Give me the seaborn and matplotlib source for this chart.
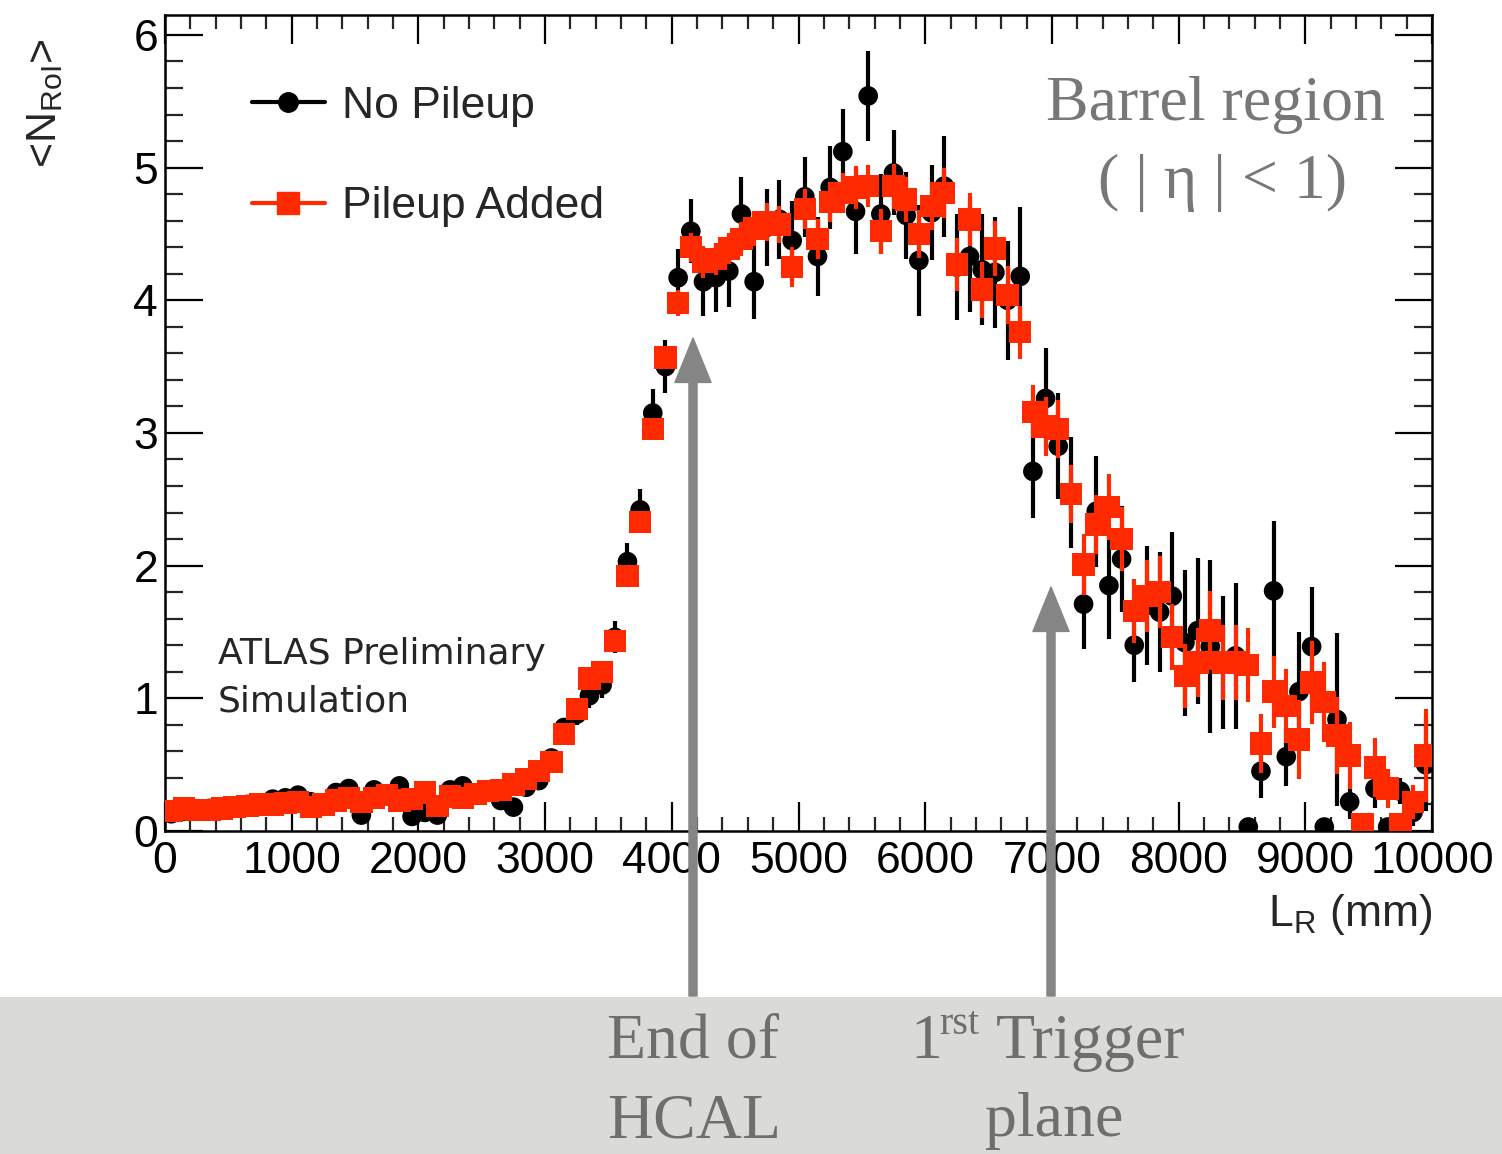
import numpy as np
import pandas as pd
import matplotlib
matplotlib.use("Agg")
import matplotlib.pyplot as plt
from matplotlib.lines import Line2D
from matplotlib.patches import Rectangle
from matplotlib.ticker import MultipleLocator
import seaborn as sns

# ---------------- data (bin centres in mm, 100 mm bins) ----------------
bin_lo = 0
bin_width = 100
n_bins = 100

no_pileup = [
    0.13, 0.15, 0.16, 0.17, 0.17, 0.19, 0.20, 0.21, 0.24, 0.25,
    0.27, 0.22, 0.20, 0.29, 0.32, 0.12, 0.31, 0.27, 0.34, 0.11,
    0.14, 0.12, 0.31, 0.34, 0.27, 0.30, 0.23, 0.18, 0.33, 0.38,
    0.55, 0.78, 0.88, 1.02, 1.10, 1.46, 2.03, 2.42, 3.15, 3.50,
    4.17, 4.52, 4.14, 4.17, 4.22, 4.65, 4.14, 4.55, 4.61, 4.45,
    4.78, 4.33, 4.85, 5.12, 4.67, 5.54, 4.65, 4.96, 4.64, 4.30,
    4.66, 4.86, 4.25, 4.33, 4.23, 4.21, 4.00, 4.18, 2.71, 3.26,
    2.90, 2.55, 1.71, 2.41, 1.85, 2.05, 1.40, 1.70, 1.65, 1.77,
    1.42, 1.51, 1.39, 1.27, 1.32, 0.03, 0.45, 1.81, 0.56, 1.05,
    1.39, 0.03, 0.84, 0.22, 0.04, 0.32, 0.03, 0.30, 0.14, 0.50,
]
no_pileup_err = [
    0.02, 0.02, 0.02, 0.02, 0.02, 0.02, 0.02, 0.02, 0.03, 0.03,
    0.03, 0.03, 0.03, 0.03, 0.03, 0.03, 0.03, 0.03, 0.03, 0.03,
    0.04, 0.04, 0.04, 0.04, 0.04, 0.04, 0.05, 0.05, 0.05, 0.06,
    0.06, 0.07, 0.08, 0.09, 0.10, 0.12, 0.14, 0.16, 0.18, 0.20,
    0.22, 0.24, 0.26, 0.26, 0.27, 0.28, 0.28, 0.29, 0.30, 0.30,
    0.30, 0.30, 0.31, 0.32, 0.32, 0.34, 0.30, 0.32, 0.33, 0.42,
    0.36, 0.38, 0.40, 0.42, 0.42, 0.42, 0.45, 0.52, 0.35, 0.38,
    0.40, 0.42, 0.34, 0.42, 0.40, 0.40, 0.28, 0.45, 0.45, 0.48,
    0.55, 0.55, 0.65, 0.50, 0.55, 0.00, 0.20, 0.53, 0.22, 0.45,
    0.45, 0.00, 0.65, 0.13, 0.00, 0.15, 0.00, 0.10, 0.10, 0.35,
]
pileup = [
    0.15, 0.17, 0.16, 0.16, 0.17, 0.18, 0.19, 0.20, 0.20, 0.21,
    0.22, 0.18, 0.20, 0.23, 0.25, 0.22, 0.25, 0.27, 0.23, 0.24,
    0.29, 0.19, 0.26, 0.25, 0.28, 0.30, 0.31, 0.35, 0.39, 0.45,
    0.52, 0.73, 0.92, 1.15, 1.20, 1.43, 1.92, 2.33, 3.03, 3.57,
    3.98, 4.40, 4.29, 4.31, 4.39, 4.46, 4.54, 4.59, 4.57, 4.25,
    4.69, 4.46, 4.74, 4.81, 4.85, 4.86, 4.52, 4.86, 4.76, 4.50,
    4.71, 4.81, 4.27, 4.61, 4.08, 4.39, 4.04, 3.76, 3.16, 3.05,
    3.03, 2.54, 2.01, 2.31, 2.44, 2.20, 1.66, 1.77, 1.80, 1.46,
    1.17, 1.27, 1.51, 1.27, 1.27, 1.25, 0.66, 1.05, 0.94, 0.69,
    1.12, 0.97, 0.72, 0.57, 0.05, 0.48, 0.32, 0.05, 0.22, 0.57,
]
pileup_err = [
    0.01, 0.01, 0.01, 0.01, 0.01, 0.01, 0.01, 0.01, 0.01, 0.01,
    0.02, 0.02, 0.02, 0.02, 0.02, 0.02, 0.02, 0.02, 0.02, 0.02,
    0.02, 0.02, 0.02, 0.02, 0.02, 0.03, 0.03, 0.03, 0.03, 0.03,
    0.03, 0.04, 0.04, 0.05, 0.05, 0.05, 0.06, 0.06, 0.07, 0.08,
    0.10, 0.11, 0.12, 0.12, 0.12, 0.13, 0.13, 0.14, 0.14, 0.15,
    0.15, 0.15, 0.15, 0.15, 0.16, 0.16, 0.17, 0.17, 0.17, 0.18,
    0.18, 0.19, 0.20, 0.20, 0.21, 0.21, 0.22, 0.20, 0.20, 0.22,
    0.22, 0.22, 0.23, 0.22, 0.25, 0.24, 0.24, 0.27, 0.27, 0.25,
    0.24, 0.26, 0.30, 0.28, 0.28, 0.28, 0.22, 0.27, 0.28, 0.30,
    0.31, 0.30, 0.29, 0.25, 0.00, 0.22, 0.15, 0.05, 0.13, 0.35,
]
series_labels = ["No Pileup", "Pileup Added"]
x_major_ticks = [0, 1000, 2000, 3000, 4000, 5000, 6000, 7000, 8000, 9000, 10000]
y_major_ticks = [0, 1, 2, 3, 4, 5, 6]

centres = [bin_lo + bin_width * (i + 0.5) for i in range(n_bins)]
df = pd.DataFrame({
    "L": centres * 2,
    "N": no_pileup + pileup,
    "err": no_pileup_err + pileup_err,
    "series": [series_labels[0]] * n_bins + [series_labels[1]] * n_bins,
})

# ---------------- style ----------------
sns.set_style("ticks")
plt.rcParams["font.family"] = ["Liberation Sans", "DejaVu Sans"]
plt.rcParams["mathtext.fontset"] = "custom"
plt.rcParams["mathtext.rm"] = "Liberation Sans"
plt.rcParams["mathtext.it"] = "Liberation Sans:italic"

W, H = 1502, 1154
fig = plt.figure(figsize=(W / 100, H / 100), dpi=100)
fig.patch.set_facecolor("white")
ax = fig.add_axes([165 / W, 1 - 831 / H, (1432 - 165) / W, (831 - 15) / H])
ax.set_facecolor("white")

BLACK = "#000000"
RED = "#ff2a00"
colors = {series_labels[0]: BLACK, series_labels[1]: RED}
markers = {series_labels[0]: "o", series_labels[1]: "s"}
sizes = {series_labels[0]: 200, series_labels[1]: 260}

for k, lab in enumerate(series_labels):
    sub = df[df["series"] == lab]
    ax.errorbar(sub["L"], sub["N"], yerr=sub["err"], xerr=bin_width / 2,
                fmt="none", ecolor=colors[lab], elinewidth=3.0, capsize=0,
                zorder=2 + 2 * k)
    sns.scatterplot(data=sub, x="L", y="N", ax=ax, color=colors[lab],
                    marker=markers[lab], s=sizes[lab], linewidth=0,
                    edgecolor="none", legend=False, zorder=3 + 2 * k)

ax.set_xlim(0, 10000)
ax.set_ylim(0, 6.15)
ax.set_xticks(x_major_ticks)
ax.set_yticks(y_major_ticks)
ax.xaxis.set_minor_locator(MultipleLocator(200))
ax.yaxis.set_minor_locator(MultipleLocator(0.2))
ax.set_xlabel("")
ax.set_ylabel("")
for sp in ax.spines.values():
    sp.set_linewidth(1.8)
    sp.set_color("black")
    sp.set_visible(True)
ax.tick_params(axis="x", which="major", direction="in", length=21, width=1.6,
               top=True, bottom=True, labelsize=32, pad=7, colors="black")
ax.tick_params(axis="x", which="minor", direction="in", length=10, width=1.6,
               top=True, bottom=True)
ax.tick_params(axis="y", which="major", direction="in", length=27, width=1.6,
               left=True, right=True, labelsize=32, pad=5, colors="black")
ax.tick_params(axis="y", which="minor", direction="in", length=13, width=1.6,
               left=True, right=True)

# legend
handles = [
    Line2D([], [], color=BLACK, marker="o", markersize=14, lw=3),
    Line2D([], [], color=RED, marker="s", markersize=16, lw=3),
]
ax.legend(handles, series_labels, loc="upper left",
          bbox_to_anchor=((252 - 165) / 1267, (831 - 86) / 816),
          frameon=False, fontsize=32, handlelength=1.64, handletextpad=0.38,
          labelspacing=1.33, borderpad=0, borderaxespad=0)

# axis titles (ROOT style)
fig.text(45 / W, 1 - 38 / H, r"<N$_{\rm RoI}$>", rotation=90, ha="center",
         va="top", fontsize=31)
fig.text(1432 / W, 1 - 892 / H, r"L$_{\rm R}$ (mm)", ha="right", va="top",
         fontsize=32)

# ATLAS label
fig.text(218 / W, 1 - 664 / H, "ATLAS Preliminary", ha="left",
         va="baseline", fontsize=26, family=["DejaVu Sans"])
fig.text(218 / W, 1 - 711 / H, "Simulation", ha="left",
         va="baseline", fontsize=26, family=["DejaVu Sans"])

# region annotation
GREY_TXT = "#777777"
serif = ["Liberation Serif", "DejaVu Serif"]
fig.text(1215 / W, 1 - 120 / H, "Barrel region", ha="center", va="baseline",
         fontsize=46, color=GREY_TXT, family=serif)
fig.text(1222 / W, 1 - 198 / H, "( | η | < 1)", ha="center", va="baseline",
         fontsize=46, color=GREY_TXT, family=serif)

# bottom grey band
fig.patches.append(Rectangle((0, 0), 1, 157 / H, transform=fig.transFigure,
                             facecolor="#dadbd6", edgecolor="none", zorder=0))

# arrows
ARROW = "#858585"
for xp, ytip in [(693, 338), (1051, 587)]:
    fig.add_artist(matplotlib.patches.FancyArrowPatch(
        (xp / W, 1 - 996 / H), (xp / W, 1 - ytip / H),
        transform=fig.transFigure,
        arrowstyle="simple,head_width=1.3,head_length=1.6,tail_width=0.29",
        mutation_scale=20, color=ARROW, shrinkA=0, shrinkB=0, zorder=10))

TXT2 = "#6e6e6e"
fig.text(607 / W, 1 - 1058 / H, "End of", ha="left", va="baseline",
         fontsize=46, color=TXT2, family=serif)
fig.text(607 / W, 1 - 1138 / H, "HCAL", ha="left", va="baseline",
         fontsize=46, color=TXT2, family=serif)
fig.text(910 / W, 1 - 1058 / H, "1", ha="left", va="baseline",
         fontsize=46, color=TXT2, family=serif)
fig.text(939 / W, 1 - 1034 / H, "rst", ha="left", va="baseline",
         fontsize=29, color=TXT2, family=serif)
fig.text(996 / W, 1 - 1058 / H, "Trigger", ha="left", va="baseline",
         fontsize=46, color=TXT2, family=serif)
fig.text(1054 / W, 1 - 1136 / H, "plane", ha="center", va="baseline",
         fontsize=46, color=TXT2, family=serif)

fig.savefig("out.png", dpi=100)
